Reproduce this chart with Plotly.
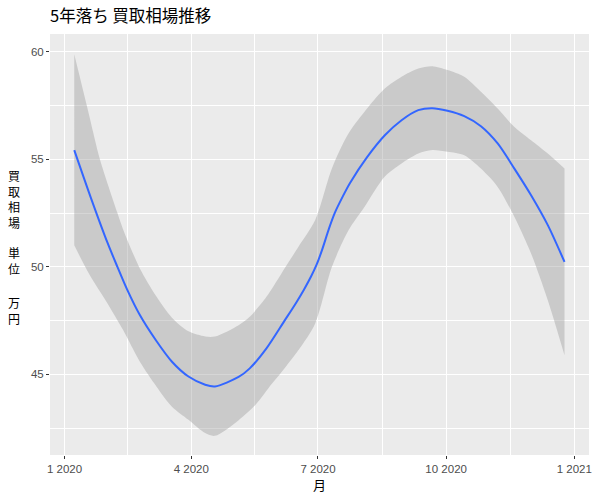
import plotly.graph_objects as go

# Smoothed curve (loess mean)
mean_dates = ["2020-01-08", "2020-01-20", "2020-02-01", "2020-02-08", "2020-02-15",
              "2020-02-24", "2020-03-07", "2020-03-18", "2020-03-30", "2020-04-11",
              "2020-04-18", "2020-05-05", "2020-05-13", "2020-05-25", "2020-06-07",
              "2020-06-15", "2020-06-21", "2020-06-26", "2020-06-30", "2020-07-04",
              "2020-07-09", "2020-07-13", "2020-07-19", "2020-07-24", "2020-08-05",
              "2020-08-18", "2020-08-30", "2020-09-11", "2020-09-21", "2020-10-02",
              "2020-10-14", "2020-10-26", "2020-11-07", "2020-11-19", "2020-12-01",
              "2020-12-13", "2020-12-25"]
mean = [55.43, 53.20, 51.10, 50.00, 48.94,
        47.77, 46.55, 45.60, 44.90, 44.52,
        44.44, 44.88, 45.28, 46.21, 47.50,
        48.30, 48.95, 49.55, 50.10, 50.80,
        51.80, 52.50, 53.30, 53.90, 55.08,
        56.12, 56.82, 57.29, 57.38, 57.26,
        57.01, 56.54, 55.74, 54.57, 53.33,
        51.94, 50.23]

# Upper edge of the confidence band
upper_dates = ["2020-01-08", "2020-01-17", "2020-01-26", "2020-01-31", "2020-02-08",
               "2020-02-12", "2020-02-24", "2020-03-07", "2020-03-18", "2020-03-30",
               "2020-04-11", "2020-04-18", "2020-05-05", "2020-05-13", "2020-05-25",
               "2020-06-05", "2020-06-17", "2020-06-29", "2020-07-11", "2020-07-23",
               "2020-08-06", "2020-08-18", "2020-08-30", "2020-09-11", "2020-09-21",
               "2020-10-02", "2020-10-14", "2020-10-26", "2020-11-07", "2020-11-19",
               "2020-12-01", "2020-12-13", "2020-12-25"]
upper = [59.89, 57.50, 55.10, 54.05, 52.50,
         51.75, 49.94, 48.62, 47.65, 47.00,
         46.76, 46.76, 47.29, 47.68, 48.61,
         49.72, 50.94, 52.18, 54.58, 56.21,
         57.42, 58.29, 58.84, 59.22, 59.33,
         59.15, 58.84, 58.14, 57.36, 56.51,
         55.89, 55.27, 54.57]

# Lower edge of the confidence band
lower_dates = ["2020-01-08", "2020-01-19", "2020-01-31", "2020-02-12", "2020-02-24",
               "2020-03-07", "2020-03-18", "2020-03-30", "2020-04-11", "2020-04-18",
               "2020-05-05", "2020-05-17", "2020-05-29", "2020-06-05", "2020-06-17",
               "2020-06-29", "2020-07-11", "2020-07-23", "2020-08-03", "2020-08-18",
               "2020-08-30", "2020-09-11", "2020-09-21", "2020-10-02", "2020-10-14",
               "2020-10-26", "2020-11-07", "2020-11-19", "2020-12-01", "2020-12-13",
               "2020-12-25"]
lower = [51.00, 49.63, 48.39, 47.07, 45.60,
         44.44, 43.51, 42.89, 42.27, 42.14,
         42.87, 43.57, 44.57, 45.12, 46.13,
         47.37, 50.00, 51.71, 52.75, 54.20,
         54.81, 55.27, 55.43, 55.35, 55.19,
         54.57, 53.72, 52.33, 50.62, 48.45,
         45.89]

x_tickvals = ["2020-01-01", "2020-04-01", "2020-07-01", "2020-10-01", "2021-01-01"]
x_ticktext = ["1 2020", "4 2020", "7 2020", "10 2020", "1 2021"]
x_minorvals = ["2020-02-15 12:00", "2020-05-16 12:00", "2020-08-16", "2020-11-16"]
y_tickvals = [45, 50, 55, 60]
y_minorvals = [42.5, 47.5, 52.5, 57.5]

title_text = "5年落ち 買取相場推移"
x_title = "月"
y_title_groups = ["買<br>取<br>相<br>場", "単<br>位", "万<br>円"]

FONT = "Liberation Sans, Arial, Noto Sans CJK JP, sans-serif"
JFONT = "Noto Sans CJK JP, sans-serif"

W, H = 600, 500
ML, MR, MT, MB = 50, 8, 34, 45
PW, PH = W - ML - MR, H - MT - MB

fig = go.Figure()
fig.add_trace(go.Scatter(x=upper_dates, y=upper, mode="lines",
                         line=dict(width=0, shape="spline", smoothing=0.8),
                         hoverinfo="skip", showlegend=False))
fig.add_trace(go.Scatter(x=lower_dates, y=lower, mode="lines",
                         line=dict(width=0, shape="spline", smoothing=0.8),
                         fill="tonexty", fillcolor="rgba(153,153,153,0.4)",
                         hoverinfo="skip", showlegend=False))
fig.add_trace(go.Scatter(x=mean_dates, y=mean, mode="lines",
                         line=dict(color="#3366FF", width=2, shape="spline", smoothing=0.8),
                         showlegend=False))

fig.update_layout(
    width=W, height=H,
    margin=dict(l=ML, r=MR, t=MT, b=MB),
    paper_bgcolor="white", plot_bgcolor="#EBEBEB",
    font=dict(family=FONT, size=12, color="#4D4D4D"),
    title=dict(text=title_text, x=ML / W, xref="container", xanchor="left",
               y=1 - 16 / H, yref="container", yanchor="middle",
               font=dict(family=JFONT, size=16.5, color="black")),
)
fig.update_xaxes(
    type="date", range=["2019-12-21 14:00", "2021-01-11 14:00"],
    tickmode="array", tickvals=x_tickvals, ticktext=x_ticktext,
    ticks="outside", ticklen=3, tickcolor="#333333", tickwidth=1,
    tickfont=dict(family=FONT, size=11.5, color="#4D4D4D"),
    showgrid=True, gridcolor="white", gridwidth=1.1, zeroline=False, showline=False,
    minor=dict(tickmode="array", tickvals=x_minorvals, showgrid=True,
               gridcolor="white", gridwidth=0.55, ticks=""),
    title=dict(text=x_title, font=dict(family=JFONT, size=13, color="black"), standoff=6),
)
fig.update_yaxes(
    range=[41.25, 60.83],
    tickmode="array", tickvals=y_tickvals,
    ticks="outside", ticklen=3, tickcolor="#333333", tickwidth=1,
    tickfont=dict(family=FONT, size=11.5, color="#4D4D4D"),
    showgrid=True, gridcolor="white", gridwidth=1.1, zeroline=False, showline=False,
    minor=dict(tickmode="array", tickvals=y_minorvals, showgrid=True,
               gridcolor="white", gridwidth=0.55, ticks=""),
)

# stacked vertical y-axis title (three groups of glyphs)
group_center_px = [199.4, 260.8, 310.5]
for txt, cy in zip(y_title_groups, group_center_px):
    fig.add_annotation(text=txt, xref="paper", yref="paper",
                       x=(13.7 - ML) / PW, y=1 - (cy - MT) / PH,
                       xanchor="center", yanchor="middle", showarrow=False,
                       borderpad=0,
                       font=dict(family=JFONT, size=12, color="black"))

fig.write_html("out.html", config={"displayModeBar": False},
               post_script="document.body.style.margin='0';document.body.style.padding='0';")
